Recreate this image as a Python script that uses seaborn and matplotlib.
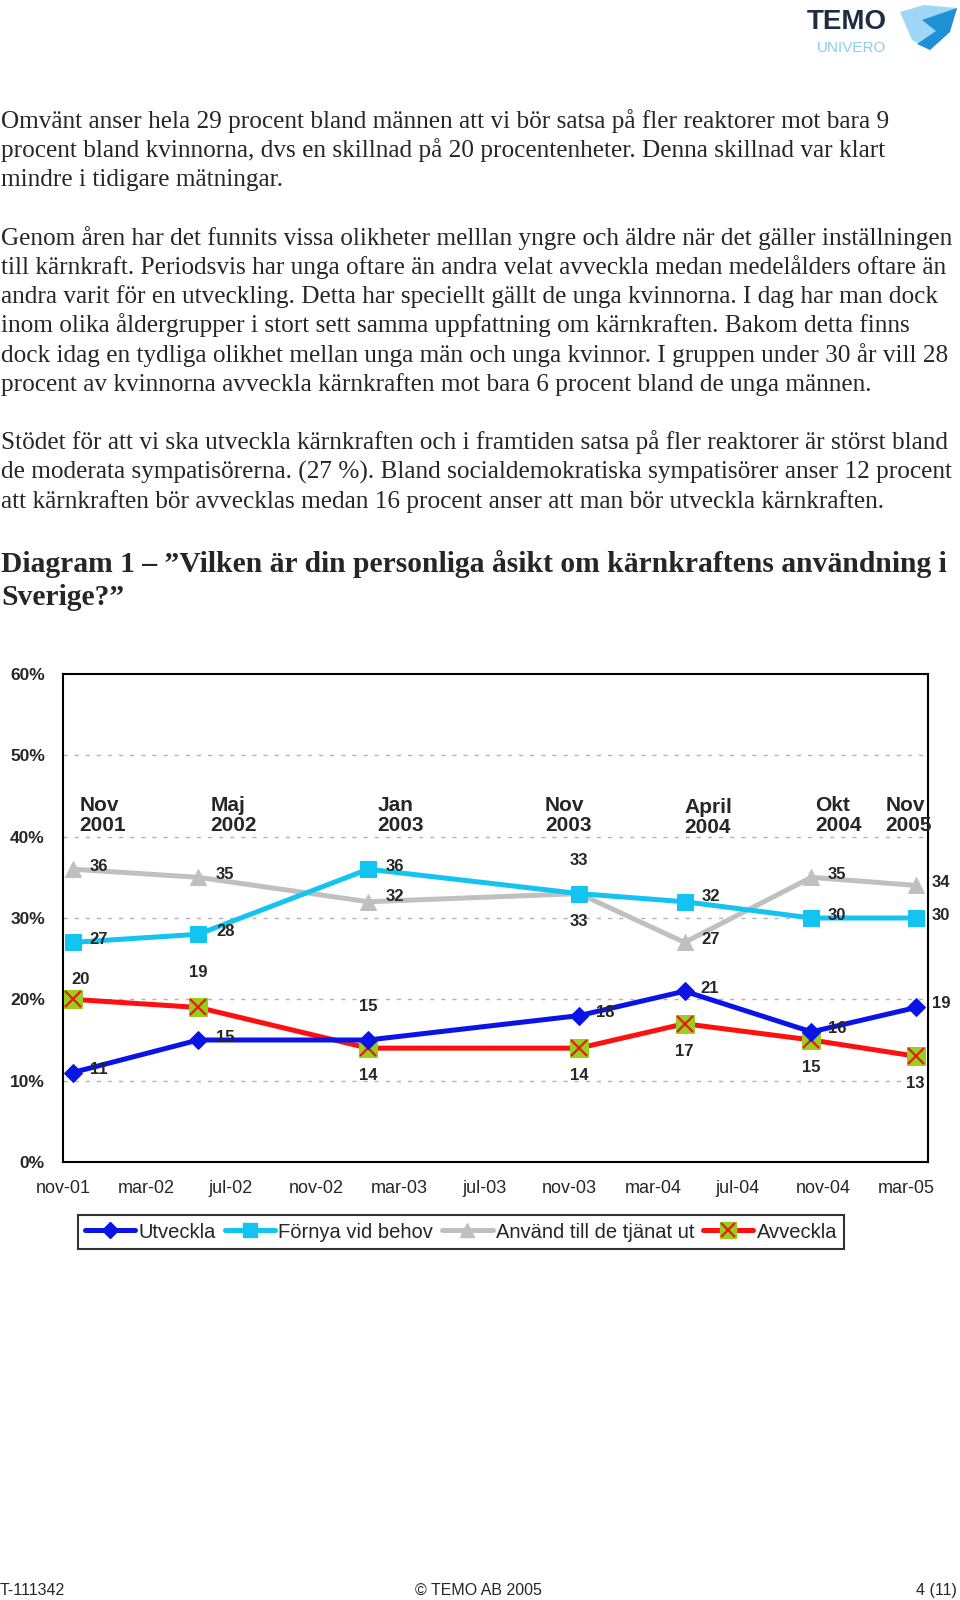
import pandas as pd
import matplotlib
matplotlib.use("Agg")
import matplotlib.pyplot as plt
import seaborn as sns
from matplotlib.lines import Line2D
from matplotlib.patches import Polygon

# survey rounds (middle of each month)
survey_dates = pd.to_datetime(["2001-11-15", "2002-05-15", "2003-01-15", "2003-11-15",
                               "2004-04-15", "2004-10-15", "2005-03-15"])
round_labels = ["Nov\n2001", "Maj\n2002", "Jan\n2003", "Nov\n2003", "April\n2004", "Okt\n2004", "Nov\n2005"]

utveckla = [11, 15, 15, 18, 21, 16, 19]
fornya = [27, 28, 36, 33, 32, 30, 30]
anvand = [36, 35, 32, 33, 27, 35, 34]
avveckla = [20, 19, 14, 14, 17, 15, 13]

series_names = ["Utveckla", "Förnya vid behov", "Använd till de tjänat ut", "Avveckla"]

tick_dates = pd.to_datetime(["2001-11-01", "2002-03-01", "2002-07-01", "2002-11-01", "2003-03-01",
                             "2003-07-01", "2003-11-01", "2004-03-01", "2004-07-01", "2004-11-01",
                             "2005-03-01"])
tick_labels = ["nov-01", "mar-02", "jul-02", "nov-02", "mar-03", "jul-03", "nov-03",
               "mar-04", "jul-04", "nov-04", "mar-05"]
y_ticks = [0, 10, 20, 30, 40, 50, 60]

body_text = [
    "Omvänt anser hela 29 procent bland männen att vi bör satsa på fler reaktorer mot bara 9",
    "procent bland kvinnorna, dvs en skillnad på 20 procentenheter. Denna skillnad var klart",
    "mindre i tidigare mätningar.",
    None,
    "Genom åren har det funnits vissa olikheter melllan yngre och äldre när det gäller inställningen",
    "till kärnkraft. Periodsvis har unga oftare än andra velat avveckla medan medelålders oftare än",
    "andra varit för en utveckling. Detta har speciellt gällt de unga kvinnorna. I dag har man dock",
    "inom olika åldergrupper i stort sett samma uppfattning om kärnkraften. Bakom detta finns",
    "dock idag en tydliga olikhet mellan unga män och unga kvinnor. I gruppen under 30 år vill 28",
    "procent av kvinnorna avveckla kärnkraften mot bara 6 procent bland de unga männen.",
    None,
    "Stödet för att vi ska utveckla kärnkraften och i framtiden satsa på fler reaktorer är störst bland",
    "de moderata sympatisörerna. (27 %). Bland socialdemokratiska sympatisörer anser 12 procent",
    "att kärnkraften bör avvecklas medan 16 procent anser att man bör utveckla kärnkraften.",
]
heading = ["Diagram 1 – ”Vilken är din personliga åsikt om kärnkraftens användning i",
           "Sverige?”"]

sns.set_style("white")
plt.rcParams["font.family"] = ["Liberation Sans", "DejaVu Sans"]

W, H = 960, 1600
fig = plt.figure(figsize=(9.6, 16), dpi=100)


def fx(px):
    return px / W


def fy(py):
    return 1 - py / H


# page text
serif = ["Liberation Serif", "DejaVu Serif"]
base = 128
for line in body_text:
    if line is not None:
        fig.text(fx(1), fy(base), line, family=serif, fontsize=18.2, va="baseline", ha="left")
    base += 29.2
for i, line in enumerate(heading):
    fig.text(fx(1), fy(572 + 33 * i), line, family=serif, fontsize=21.3, fontweight="bold",
             va="baseline", ha="left")

# logo
fig.text(fx(807), fy(22), "TEMO", fontsize=20, fontweight="bold", color="#1f2d44", va="center")
fig.text(fx(817), fy(48), "UNIVERO", fontsize=11, color="#8ccbef", va="center")
fig.add_artist(Polygon([(fx(900), fy(12)), (fx(924), fy(5)), (fx(957), fy(8)), (fx(950), fy(30)),
                        (fx(930), fy(50)), (fx(912), fy(40))], closed=True, transform=fig.transFigure,
                       facecolor="#9ed6f5", edgecolor="none"))
fig.add_artist(Polygon([(fx(922), fy(20)), (fx(957), fy(8)), (fx(950), fy(32)), (fx(930), fy(50)),
                        (fx(917), fy(44)), (fx(936), fy(31))], closed=True, transform=fig.transFigure,
                       facecolor="#1e90d6", edgecolor="none"))

# footer
fig.text(fx(0), fy(1595), "T-111342", fontsize=11.5, va="baseline")
fig.text(fx(478), fy(1595), "© TEMO AB 2005", fontsize=11.5, va="baseline", ha="center")
fig.text(fx(957), fy(1595), "4 (11)", fontsize=11.5, va="baseline", ha="right")

# chart
ax = fig.add_axes([fx(63), fy(1162), (928 - 63) / W, (1162 - 674) / H])

c_utv, c_for, c_anv, c_avv = "#0a14e6", "#14c4f0", "#c0c0c0", "#ff1010"
green = "#9acd1e"
lw = 3.6

sns.lineplot(x=survey_dates, y=anvand, ax=ax, color=c_anv, lw=lw, marker="^", markersize=12,
             markeredgecolor=c_anv, zorder=3)
sns.lineplot(x=survey_dates, y=fornya, ax=ax, color=c_for, lw=lw, marker="s", markersize=11,
             markeredgecolor=c_for, zorder=4)
sns.lineplot(x=survey_dates, y=avveckla, ax=ax, color=c_avv, lw=lw, marker="s", markersize=13,
             markerfacecolor=green, markeredgecolor=green, zorder=5)
ax.plot(survey_dates, avveckla, ls="none", marker="x", markersize=11, mew=1.6, color="#e02010", zorder=6)
sns.lineplot(x=survey_dates, y=utveckla, ax=ax, color=c_utv, lw=lw, marker="D", markersize=9,
             markeredgecolor=c_utv, zorder=7)

# value labels: offsets in pixels (right, up)
offs = {
    "utv": [(26, 3), (27, 2), (0, 33), (26, 3), (25, 3), (26, 3), (25, 4)],
    "for": [(26, 3), (27, 3), (27, 3), (0, 33), (26, 5), (25, 2), (25, 2)],
    "anv": [(26, 3), (27, 3), (27, 5), (0, -28), (26, 3), (25, 3), (25, 3)],
    "avv": [(8, 20), (0, 35), (0, -27), (0, -27), (0, -28), (0, -27), (-1, -27)],
}
for key, vals in [("utv", utveckla), ("for", fornya), ("anv", anvand), ("avv", avveckla)]:
    for d, v, (dx, dy) in zip(survey_dates, vals, offs[key]):
        ax.annotate(str(v), (d, v), xytext=(dx, dy), textcoords="offset pixels", ha="center",
                    va="center", fontsize=12, fontweight="bold", zorder=10)

# survey round names
round_offs = [(7, 0), (12, 0), (9, 0), (-34, 0), (0, -2), (4, 0), (-31, 0)]
for d, lab, (dx, dy) in zip(survey_dates, round_labels, round_offs):
    ax.annotate(lab, (d, 42.6), xytext=(dx, dy), textcoords="offset pixels", ha="left",
                va="center", fontsize=15, fontweight="bold", linespacing=1.1)

ax.set_xlim(pd.Timestamp("2001-11-01"), pd.Timestamp("2005-04-01"))
ax.set_ylim(0, 60)
ax.set_xticks(tick_dates)
ax.set_xticklabels(tick_labels, fontsize=13)
ax.set_yticks(y_ticks)
ax.set_yticklabels([f"{t}%" for t in y_ticks], fontsize=12.5, fontweight="bold")
ax.tick_params(axis="both", direction="out", length=6, width=1.5, color="black", pad=7)
ax.set_xlabel("")
ax.set_ylabel("")
for t in y_ticks[1:-1]:
    ax.axhline(t, color="#b4b4b4", lw=1, ls=(0, (3, 5)), zorder=1)
for s in ax.spines.values():
    s.set_visible(True)
    s.set_color("black")
    s.set_linewidth(1.5)

handles = [
    Line2D([], [], color=c_utv, lw=lw, marker="D", markersize=8, markeredgecolor=c_utv),
    Line2D([], [], color=c_for, lw=lw, marker="s", markersize=10, markeredgecolor=c_for),
    Line2D([], [], color=c_anv, lw=lw, marker="^", markersize=10, markeredgecolor=c_anv),
    (Line2D([], [], color=c_avv, lw=lw, marker="s", markersize=11, markerfacecolor=green,
            markeredgecolor=green),
     Line2D([], [], ls="none", marker="x", markersize=10, mew=1.6, color="#e02010")),
]
leg = fig.legend(handles, series_names, loc="center", bbox_to_anchor=(fx(461), fy(1232)), ncol=4,
                 fontsize=14.5, frameon=True, fancybox=False, edgecolor="black", handlelength=2.5,
                 handletextpad=0.15, columnspacing=0.45, borderpad=0.35)
leg.get_frame().set_linewidth(1.5)

fig.savefig("out.png", dpi=100, facecolor="white")
